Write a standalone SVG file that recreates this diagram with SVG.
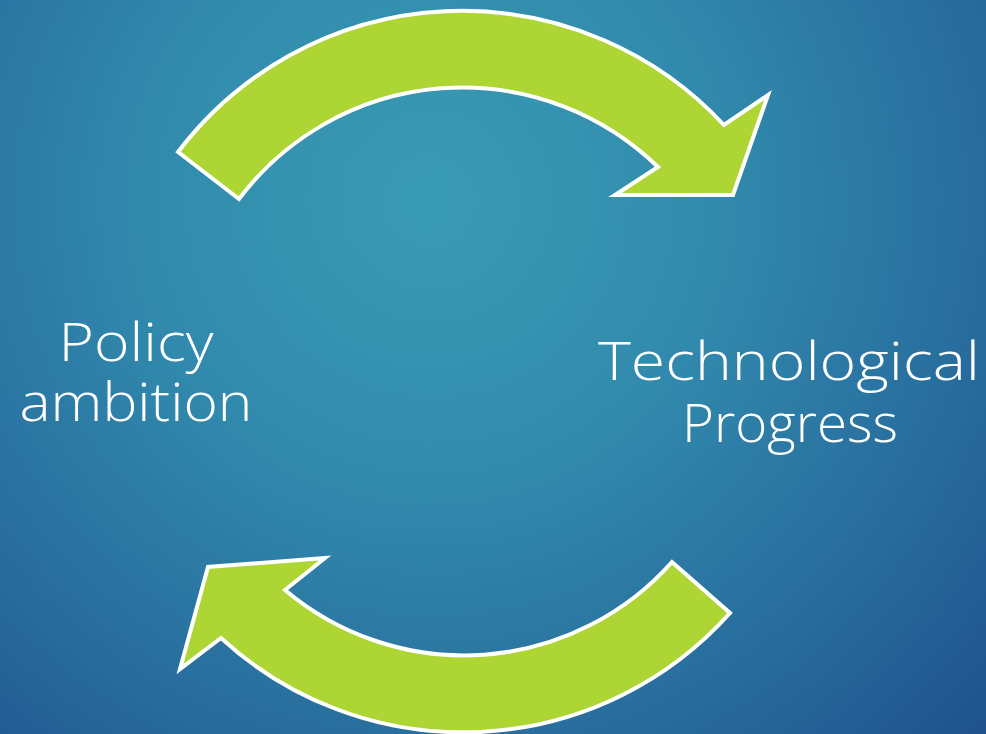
<svg xmlns="http://www.w3.org/2000/svg" width="986" height="734" viewBox="0 0 986 734">
  <defs>
    <radialGradient id="bg" gradientUnits="userSpaceOnUse" cx="430" cy="200" r="820">
      <stop offset="0" stop-color="#3A9CB4"/>
      <stop offset="0.35" stop-color="#318AAD"/>
      <stop offset="0.7" stop-color="#276A9C"/>
      <stop offset="1" stop-color="#1D4C88"/>
    </radialGradient>
    <style>
      .arrow { fill: #ADD533; stroke: #FFFFFF; stroke-width: 4; stroke-linejoin: miter; }
      .label { fill: #FFFFFF; font-family: "Open Sans", "Liberation Sans", sans-serif; font-weight: 300; font-size: 53px; text-anchor: middle; }
    </style>
  </defs>

  <rect width="986" height="734" fill="url(#bg)"/>

  <g id="connectors">
    <!-- upper arc: policy ambition to technological progress -->
    <path id="arrow-top" class="arrow" d="M178,152 A357,357 0 0 1 724,125 L768,95 L733,195 L615,195 L658,167 A280,280 0 0 0 239,199 Z"/>
    <!-- lower arc: technological progress back to policy ambition -->
    <path id="arrow-bottom" class="arrow" d="M730,613 A358,358 0 0 1 221,638 L180,669 L208,567 L325,558 L285,590 A278,278 0 0 0 672,562 Z"/>
  </g>

  <g id="node-policy">
    <text class="label" x="136" y="361" textLength="155" lengthAdjust="spacingAndGlyphs">Policy</text>
    <text class="label" x="136" y="421" textLength="233" lengthAdjust="spacingAndGlyphs">ambition</text>
  </g>

  <g id="node-tech">
    <text class="label" x="789" y="380" textLength="382" lengthAdjust="spacingAndGlyphs">Technological</text>
    <text class="label" x="790" y="442" textLength="216" lengthAdjust="spacingAndGlyphs">Progress</text>
  </g>
</svg>
